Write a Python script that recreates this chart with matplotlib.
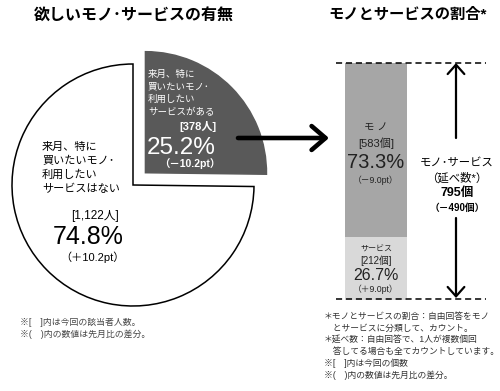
import matplotlib
matplotlib.use("Agg")
import matplotlib.pyplot as plt

plt.rcParams['font.family'] = ['Liberation Sans', 'Noto Sans CJK JP']

# data
pie_labels = ['来月、特に\n買いたいモノ･\n利用したい\nサービスがある',
              '来月、特に\n買いたいモノ･\n利用したい\nサービスはない']
pie_share = [25.2, 74.8]
pie_counts = [378, 1122]
pie_diff = [-10.2, 10.2]
pie_colors = ['#595959', '#ffffff']

bar_labels = ['モ ノ', 'サービス']
bar_share = [73.3, 26.7]
bar_counts = [583, 212]
bar_diff = [-9.0, 9.0]
bar_colors = ['#a6a6a6', '#d9d9d9']

total_count = 795
total_diff = -490

W, H = 500, 391


def sign(v):
    return '－' if v < 0 else '＋'


def Y(y):
    # pixel row (from top) -> axes y
    return H - y


fig = plt.figure(figsize=(W / 100, H / 100), dpi=100)

# stacked bar (service at bottom, goods on top)
axb = fig.add_axes([345 / W, (H - 300) / H, 62 / W, 237 / H])
axb.bar([0], [bar_share[1]], width=1, color=bar_colors[1])
axb.bar([0], [bar_share[0]], width=1, bottom=[bar_share[1]], color=bar_colors[0])
axb.set_xlim(-0.5, 0.5)
axb.set_ylim(0, 100)
axb.axis('off')

ax = fig.add_axes([0, 0, 1, 1])
ax.set_zorder(2)

wedges, _ = ax.pie(pie_share, colors=pie_colors, startangle=90, counterclock=False,
                   center=(133, Y(185)), radius=121, explode=[17.5, 0],
                   wedgeprops=dict(linewidth=1.1))
wedges[0].set_edgecolor(pie_colors[0])
wedges[1].set_edgecolor('black')
ax.set_xlim(0, W)
ax.set_ylim(0, H)
ax.set_aspect('equal')
ax.axis('off')

# titles
ax.text(134, Y(15), '欲しいモノ･サービスの有無', ha='center', va='center',
        fontsize=11.5, fontweight='bold')
ax.text(408, Y(15), 'モノとサービスの割合*', ha='center', va='center',
        fontsize=11, fontweight='bold')

# dark slice texts
ax.text(148, Y(93), pie_labels[0], ha='left', va='center', color='white',
        fontsize=6.8, linespacing=1.45)
ax.text(198, Y(127), f'[{pie_counts[0]:,}人]', ha='center', va='center',
        color='white', fontsize=8, fontweight='bold')
ax.text(181, Y(148), f'{pie_share[0]}%', ha='center', va='center',
        color='white', fontsize=17.5)
ax.text(190, Y(164), f'（{sign(pie_diff[0])}{abs(pie_diff[0])}pt）', ha='center',
        va='center', color='white', fontsize=7.5, fontweight='bold')

# white slice texts
ax.text(42, Y(168), pie_labels[1], ha='left', va='center', color='black',
        fontsize=8, linespacing=1.45)
ax.text(95, Y(216), f'[{pie_counts[1]:,}人]', ha='center', va='center', fontsize=8.5)
ax.text(88, Y(237), f'{pie_share[1]}%', ha='center', va='center', fontsize=18)
ax.text(92, Y(257), f'（{sign(pie_diff[1])}{abs(pie_diff[1])}pt）', ha='center',
        va='center', fontsize=8)

ax.text(20, Y(328), '※[　]内は今回の該当者人数。\n※(　)内の数値は先月比の差分。',
        ha='left', va='center', fontsize=6.4, color='#444444', linespacing=1.3)

# big arrow
ax.annotate('', xy=(329, Y(138)), xytext=(238, Y(138)),
            arrowprops=dict(arrowstyle='->,head_length=0.5,head_width=0.43',
                            lw=3.3, color='black', mutation_scale=20,
                            shrinkA=0, shrinkB=0))

# dashed guide lines
ax.hlines([Y(63), Y(299)], 336, 486, colors='black', linestyles=(0, (4, 2.5)), lw=1.1)

# vertical arrows
ax.annotate('', xy=(456, Y(63)), xytext=(456, Y(138)),
            arrowprops=dict(arrowstyle='->,head_length=0.45,head_width=0.4',
                            lw=1.6, color='black', mutation_scale=15,
                            shrinkA=0, shrinkB=0))
ax.annotate('', xy=(456, Y(298)), xytext=(456, Y(218)),
            arrowprops=dict(arrowstyle='->,head_length=0.45,head_width=0.4',
                            lw=1.6, color='black', mutation_scale=15,
                            shrinkA=0, shrinkB=0))

# bar texts
ax.text(376, Y(127), bar_labels[0], ha='center', va='center', fontsize=7.5, color='#222222')
ax.text(376, Y(143), f'[{bar_counts[0]}個]', ha='center', va='center', fontsize=8, color='#222222')
ax.text(376, Y(163), f'{bar_share[0]}%', ha='center', va='center', fontsize=14.5, color='#222222')
ax.text(376, Y(180), f'（{sign(bar_diff[0])}{abs(bar_diff[0])}pt）', ha='center',
        va='center', fontsize=6.3, color='#222222')

ax.text(376, Y(250), bar_labels[1], ha='center', va='center', fontsize=5.8, color='#222222')
ax.text(376, Y(261), f'[{bar_counts[1]}個]', ha='center', va='center', fontsize=7, color='#222222')
ax.text(376, Y(275), f'{bar_share[1]}%', ha='center', va='center', fontsize=11.5, color='#222222')
ax.text(376, Y(289), f'（{sign(bar_diff[1])}{abs(bar_diff[1])}pt）', ha='center',
        va='center', fontsize=6.3, color='#222222')

# total
ax.text(457, Y(163), 'モノ･サービス', ha='center', va='center', fontsize=8.2)
ax.text(457, Y(178), '（延べ数*）', ha='center', va='center', fontsize=8.2)
ax.text(457, Y(193), f'{total_count}個', ha='center', va='center', fontsize=9, fontweight='bold')
ax.text(457, Y(208), f'（{sign(total_diff)}{abs(total_diff)}個）', ha='center', va='center',
        fontsize=7, fontweight='bold')

# notes
notes = ['＊モノとサービスの割合：自由回答をモノ',
         '　とサービスに分類して、カウント。',
         '＊延べ数：自由回答で、1人が複数個回',
         '　答してる場合も全てカウントしています。',
         '※[　]内は今回の個数',
         '※(　)内の数値は先月比の差分。']
ax.text(324, Y(346), '\n'.join(notes), ha='left', va='center', fontsize=6.3,
        color='#333333', linespacing=1.35)

fig.savefig('out.png', dpi=100)
